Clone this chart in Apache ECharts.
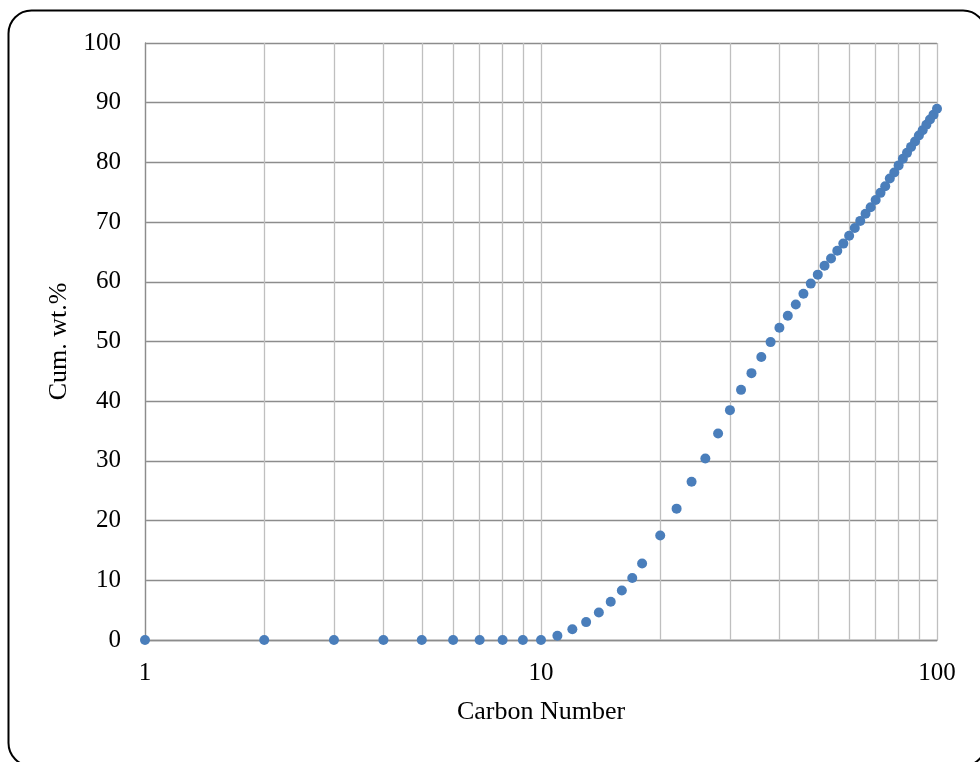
<!DOCTYPE html>
<html>
<head>
<meta charset="utf-8">
<title>Cumulative weight % by carbon number</title>
<script src="https://cdn.jsdelivr.net/npm/echarts@6/dist/echarts.min.js"></script>
<style>
  html, body { margin: 0; padding: 0; background: #fff; }
  #chart { width: 980px; height: 762px; }
</style>
</head>
<body>
<div id="chart"></div>
<script>
// Carbon numbers (single numbers up to C18, then every second one to C100)
const carbonNumbers = [
  1, 2, 3, 4, 5, 6, 7, 8, 9, 10,
  11, 12, 13, 14, 15, 16, 17, 18,
  20, 22, 24, 26, 28, 30, 32, 34, 36, 38, 40,
  42, 44, 46, 48, 50, 52, 54, 56, 58, 60,
  62, 64, 66, 68, 70, 72, 74, 76, 78, 80,
  82, 84, 86, 88, 90, 92, 94, 96, 98, 100
];

// Cumulative weight percent at each carbon number
const cumWtPct = [
  0, 0, 0, 0, 0, 0, 0, 0, 0, 0,
  0.7, 1.8, 3.0, 4.6, 6.4, 8.3, 10.4, 12.8,
  17.5, 22.0, 26.5, 30.4, 34.6, 38.5, 41.9, 44.7, 47.4, 49.9, 52.3,
  54.3, 56.2, 58.0, 59.7, 61.2, 62.7, 63.9, 65.2, 66.4, 67.7,
  69.0, 70.2, 71.4, 72.5, 73.7, 74.9, 76.0, 77.3, 78.3, 79.5,
  80.6, 81.6, 82.6, 83.5, 84.5, 85.4, 86.3, 87.2, 88.0, 89.0
];

// Intermediate vertical grid positions on the log axis
const minorGridX = [2, 3, 4, 5, 6, 7, 8, 9, 20, 30, 40, 50, 60, 70, 80, 90];

const serif = '"Liberation Serif", "Times New Roman", serif';

const chart = echarts.init(document.getElementById('chart'), null, { renderer: 'canvas' });

chart.setOption({
  backgroundColor: '#ffffff',
  animation: false,
  graphic: [{
    type: 'rect',
    z: -10,
    silent: true,
    shape: { x: 8.5, y: 10.5, width: 977.5, height: 755.5, r: 23 },
    style: { fill: 'none', stroke: '#000000', lineWidth: 2 }
  }],
  grid: { left: 145, right: 43, top: 43, bottom: 122, containLabel: false },
  xAxis: {
    type: 'log',
    logBase: 10,
    min: 1,
    max: 100,
    name: 'Carbon Number',
    nameLocation: 'middle',
    nameGap: 59,
    nameTextStyle: { fontFamily: serif, fontSize: 26, color: '#000' },
    axisLine: { show: true, lineStyle: { color: '#8c8c8c', width: 1.3 } },
    axisTick: { show: false },
    axisLabel: { fontFamily: serif, fontSize: 25, color: '#000', margin: 21 },
    splitLine: { show: true, lineStyle: { color: '#bfbfbf', width: 1.3 } }
  },
  yAxis: {
    type: 'value',
    min: 0,
    max: 100,
    interval: 10,
    name: 'Cum. wt.%',
    nameLocation: 'middle',
    nameRotate: 90,
    nameGap: 73,
    nameTextStyle: { fontFamily: serif, fontSize: 26, color: '#000' },
    axisLine: { show: true, lineStyle: { color: '#8c8c8c', width: 1.3 } },
    axisTick: { show: false },
    axisLabel: { fontFamily: serif, fontSize: 25, color: '#000', margin: 24 },
    splitLine: { show: true, lineStyle: { color: '#8c8c8c', width: 1.3 } }
  },
  series: [
    {
      // vertical grid lines at 2..9 and 20..90
      type: 'line',
      data: [],
      silent: true,
      z: 1,
      markLine: {
        silent: true,
        symbol: ['none', 'none'],
        label: { show: false },
        lineStyle: { color: '#bfbfbf', width: 1.3, type: 'solid' },
        emphasis: { disabled: true },
        data: minorGridX.map(v => ({ xAxis: v }))
      }
    },
    {
      name: 'Cum. wt.%',
      type: 'scatter',
      z: 5,
      symbol: 'circle',
      symbolSize: 10,
      itemStyle: { color: '#4a7ebb', opacity: 1 },
      data: carbonNumbers.map((c, i) => [c, cumWtPct[i]])
    }
  ]
});
</script>
</body>
</html>
